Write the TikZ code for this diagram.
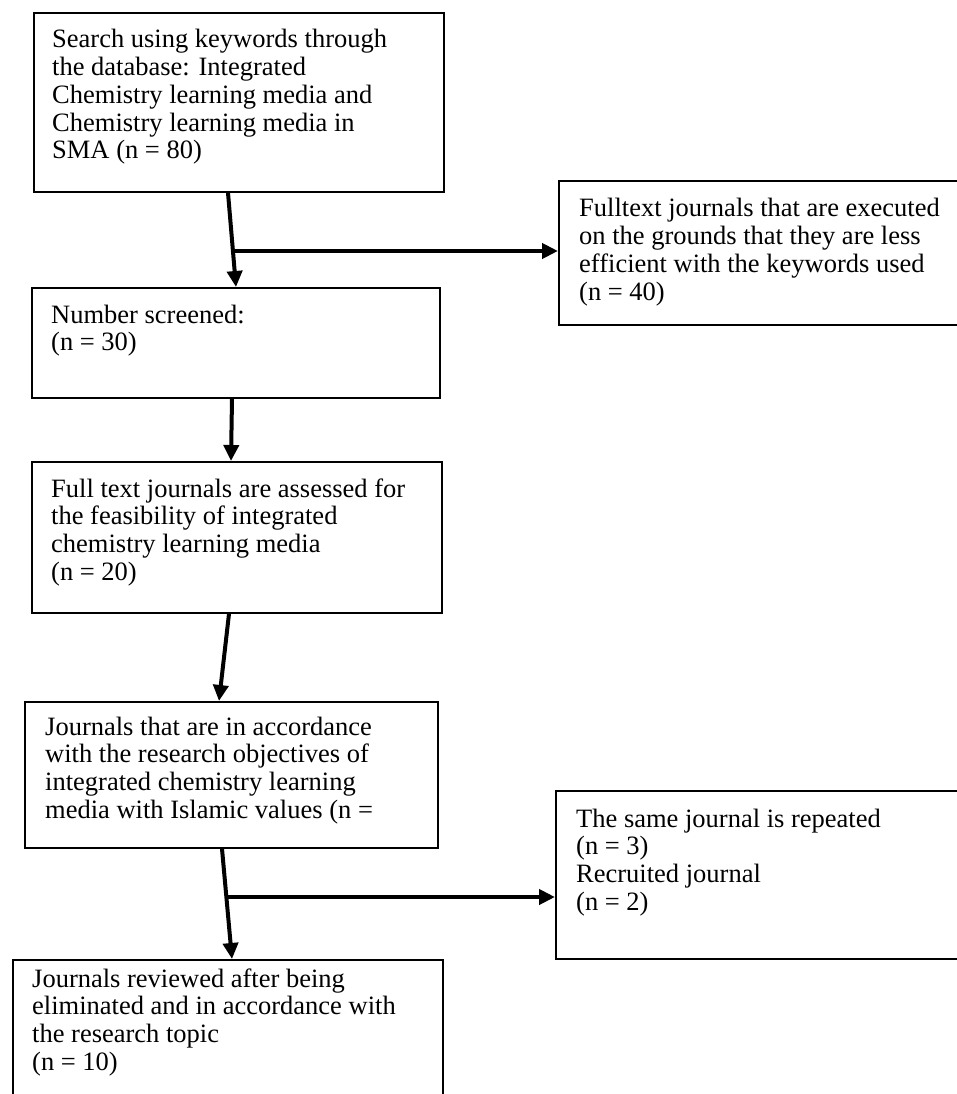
\documentclass[tikz,border=0pt]{standalone}
\usepackage{fontspec}
\setmainfont{Liberation Serif}
\usetikzlibrary{arrows.meta,calc}
\begin{document}
\begin{tikzpicture}[x=1pt,y=-1pt,
  box/.style={draw=black, line width=1.8pt, rectangle, inner sep=0pt, anchor=north west},
  txt/.style={inner sep=0pt, anchor=base west, align=left, font=\fontsize{26.5}{27.7}\selectfont},
  arr/.style={line width=4pt, -{Triangle[length=16pt,width=15pt]}}]
\useasboundingbox (0,0) rectangle (957,1094);
\fill[white] (0,0) rectangle (957,1094);
% boxes
\node[box, minimum width=410pt, minimum height=179pt] (b1) at (33,12) {};
\node[box, minimum width=408pt, minimum height=110pt] (b2) at (31,287) {};
\node[box, minimum width=410pt, minimum height=151pt] (b3) at (31,461) {};
\node[box, minimum width=413pt, minimum height=146pt] (b4) at (24,701) {};
\node[box, minimum width=430pt, minimum height=151pt] (b5) at (12,959) {};
\node[box, minimum width=422pt, minimum height=144pt] (r1) at (558,180) {};
\node[box, minimum width=425pt, minimum height=168pt] (r2) at (555,790) {};
% texts (anchored at the baseline of their last line)
\node[txt] (t1) at (52,158.8) {Search using keywords through\\the database: Integrated\\Chemistry learning media and\\Chemistry learning media in\\SMA (n = 80)};
\node[txt] (t2) at (51,350.7) {Number screened:\\(n = 30)};
\node[txt] (t3) at (51,580.1) {Full text journals are assessed for\\the feasibility of integrated\\chemistry learning media\\(n = 20)};
\node[txt] (t4) at (45,818.1) {Journals that are in accordance\\with the research objectives of\\integrated chemistry learning\\media with Islamic values (n =};
\node[txt] (t5) at (32,1070.1) {Journals reviewed after being\\eliminated and in accordance with\\the research topic\\(n = 10)};
\node[txt] (t6) at (579,300) {Fulltext journals that are executed\\on the grounds that they are less\\efficient with the keywords used\\(n = 40)};
\node[txt] (t7) at (576,910.1) {The same journal is repeated\\(n = 3)\\Recruited journal\\(n = 2)};
% connectors
\draw[arr] ([xshift=195pt]b1.south west) -- ([xshift=205pt]b2.north west);
\draw[arr] ([xshift=201pt]b2.south west) -- ([xshift=200pt]b3.north west);
\draw[arr] ([xshift=198pt]b3.south west) -- ([xshift=195pt]b4.north west);
\draw[arr] ([xshift=198pt]b4.south west) -- ([xshift=220pt]b5.north west);
\coordinate (j1) at (233,251);
\coordinate (j2) at (227,897);
\draw[arr] (j1) -- (j1 -| r1.west);
\draw[arr] (j2) -- (j2 -| r2.west);
\end{tikzpicture}
\end{document}
